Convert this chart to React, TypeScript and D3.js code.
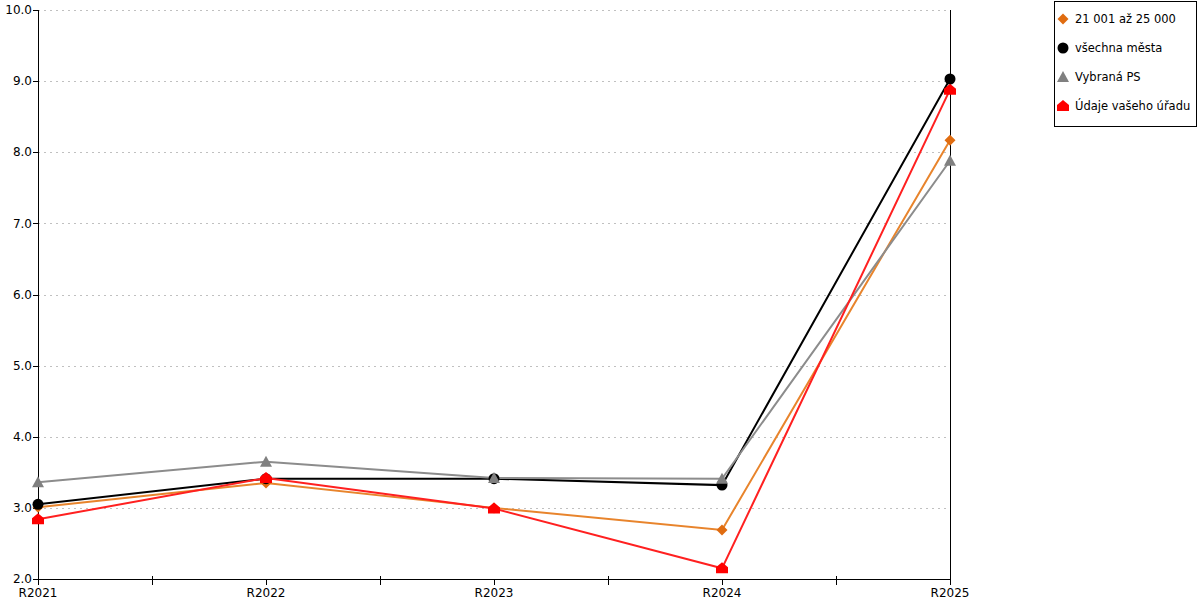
import React from "react";
import * as d3 from "d3";

const categories = ["R2021", "R2022", "R2023", "R2024", "R2025"];
const yTicks = [2, 3, 4, 5, 6, 7, 8, 9, 10];
const seriesNames = ["21 001 až 25 000", "všechna města", "Vybraná PS", "Údaje vašeho úřadu"];
const orangeValues = [3.01, 3.35, 3.0, 2.69, 8.17];
const blackValues = [3.05, 3.41, 3.41, 3.32, 9.03];
const grayValues = [3.36, 3.65, 3.42, 3.41, 7.88];
const redValues = [2.84, 3.42, 2.99, 2.15, 8.88];

const series = [
  { name: seriesNames[0], values: orangeValues, line: "#e8842c", fill: "#e06c10", shape: "diamond" },
  { name: seriesNames[1], values: blackValues, line: "#000000", fill: "#000000", shape: "circle" },
  { name: seriesNames[2], values: grayValues, line: "#8c8c8c", fill: "#808080", shape: "triangle" },
  { name: seriesNames[3], values: redValues, line: "#ff2020", fill: "#ff0000", shape: "house" },
];

function Marker({ shape, x, y, fill }: { shape: string; x: number; y: number; fill: string }) {
  if (shape === "circle") return <circle cx={x} cy={y} r={5.5} fill={fill} />;
  if (shape === "diamond")
    return <path d={`M${x},${y - 5.5}L${x + 5.5},${y}L${x},${y + 5.5}L${x - 5.5},${y}Z`} fill={fill} />;
  if (shape === "triangle")
    return <path d={`M${x},${y - 6}L${x + 6},${y + 5}L${x - 6},${y + 5}Z`} fill={fill} />;
  return <path d={`M${x},${y - 6}L${x + 6},${y - 1}L${x + 6},${y + 5}L${x - 6},${y + 5}L${x - 6},${y - 1}Z`} fill={fill} />;
}

export default function App() {
  const W = 1200, H = 600;
  const left = 38, right = 950, top = 10, bottom = 579;
  const x = d3.scalePoint<string>().domain(categories).range([left, right]);
  const y = d3.scaleLinear().domain([2, 10]).range([bottom, top]);
  const step = x.step();
  const line = d3.line<number>().x((_, i) => x(categories[i])!).y((v) => y(v));
  const font = "'DejaVu Sans', Verdana, sans-serif";
  const c = (v: number) => Math.round(v) + 0.5;

  return (
    <svg width={W} height={H} style={{ position: "absolute", left: 0, top: 0 }} fontFamily={font}>
      <rect x={0} y={0} width={W} height={H} fill="#fff" />
      {yTicks.map((t) => (
        <g key={t}>
          {t > 2 && <line x1={left} x2={right} y1={c(y(t))} y2={c(y(t))} stroke="#c0c0c0" strokeDasharray="2,4" />}
          <line x1={left - 5} x2={left} y1={c(y(t))} y2={c(y(t))} stroke="#000" />
          <text x={left - 6} y={y(t)} dy="0.35em" textAnchor="end" fontSize={12} fill="#000">
            {t.toFixed(1)}
          </text>
        </g>
      ))}
      <line x1={c(left)} x2={c(left)} y1={top} y2={bottom + 6} stroke="#000" />
      <line x1={c(right)} x2={c(right)} y1={top} y2={bottom + 6} stroke="#000" />
      <line x1={left} x2={right} y1={c(bottom)} y2={c(bottom)} stroke="#000" />
      {categories.map((cat, i) => (
        <g key={cat}>
          <line x1={c(x(cat)!)} x2={c(x(cat)!)} y1={bottom} y2={bottom + 6} stroke="#000" />
          {i < categories.length - 1 && (
            <line x1={c(x(cat)! + step / 2)} x2={c(x(cat)! + step / 2)} y1={bottom - 3} y2={bottom + 6} stroke="#000" />
          )}
          <text x={x(cat)!} y={bottom + 18} textAnchor="middle" fontSize={12} fill="#000">
            {cat}
          </text>
        </g>
      ))}
      {series.map((s) => (
        <path key={s.name} d={line(s.values)!} fill="none" stroke={s.line} strokeWidth={2} />
      ))}
      {series.map((s) =>
        s.values.map((v, i) => (
          <Marker key={s.name + i} shape={s.shape} x={x(categories[i])!} y={y(v)} fill={s.fill} />
        ))
      )}
      <rect x={1054.5} y={1.5} width={142} height={125} fill="#fff" stroke="#000" />
      {series.map((s, i) => (
        <g key={s.name}>
          <Marker shape={s.shape} x={1063} y={19 + i * 29} fill={s.fill} />
          <text x={1075} y={19 + i * 29} dy="0.35em" fontSize={11.5} fill="#000">
            {s.name}
          </text>
        </g>
      ))}
    </svg>
  );
}
